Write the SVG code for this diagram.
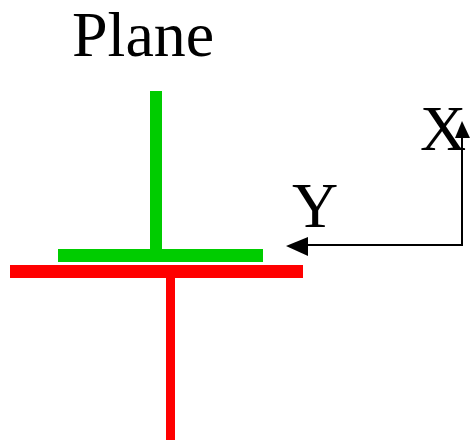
<svg xmlns="http://www.w3.org/2000/svg" width="472" height="440" viewBox="0 0 472 440">
<style>
.t{font-family:"Liberation Serif","Times New Roman",serif;font-size:64px;fill:#000}
.ax{stroke:#000;stroke-width:2;fill:none}
.head{fill:#000}
.g{fill:#00cc00}
.r{fill:#ff0000}
</style>
<rect width="472" height="440" fill="#fff"/>
<g id="title"><text class="t" x="72" y="56">Plane</text></g>
<g id="green">
<rect class="g" x="150" y="91" width="12" height="160"/>
<rect class="g" x="58" y="249" width="205" height="13"/>
</g>
<g id="red">
<rect class="r" x="10" y="265" width="293" height="13"/>
<rect class="r" x="166" y="277" width="9" height="163"/>
</g>
<g id="labels">
<text class="t" x="420" y="150">X</text>
<text class="t" x="292" y="227">Y</text>
</g>
<g id="connectors">
<polyline class="ax" points="307,245 462,245 462,136"/>
<polygon class="head" points="462,121 455,138 470,138"/>
<polygon class="head" points="286,246 308,237 308,256"/>
</g>
</svg>
